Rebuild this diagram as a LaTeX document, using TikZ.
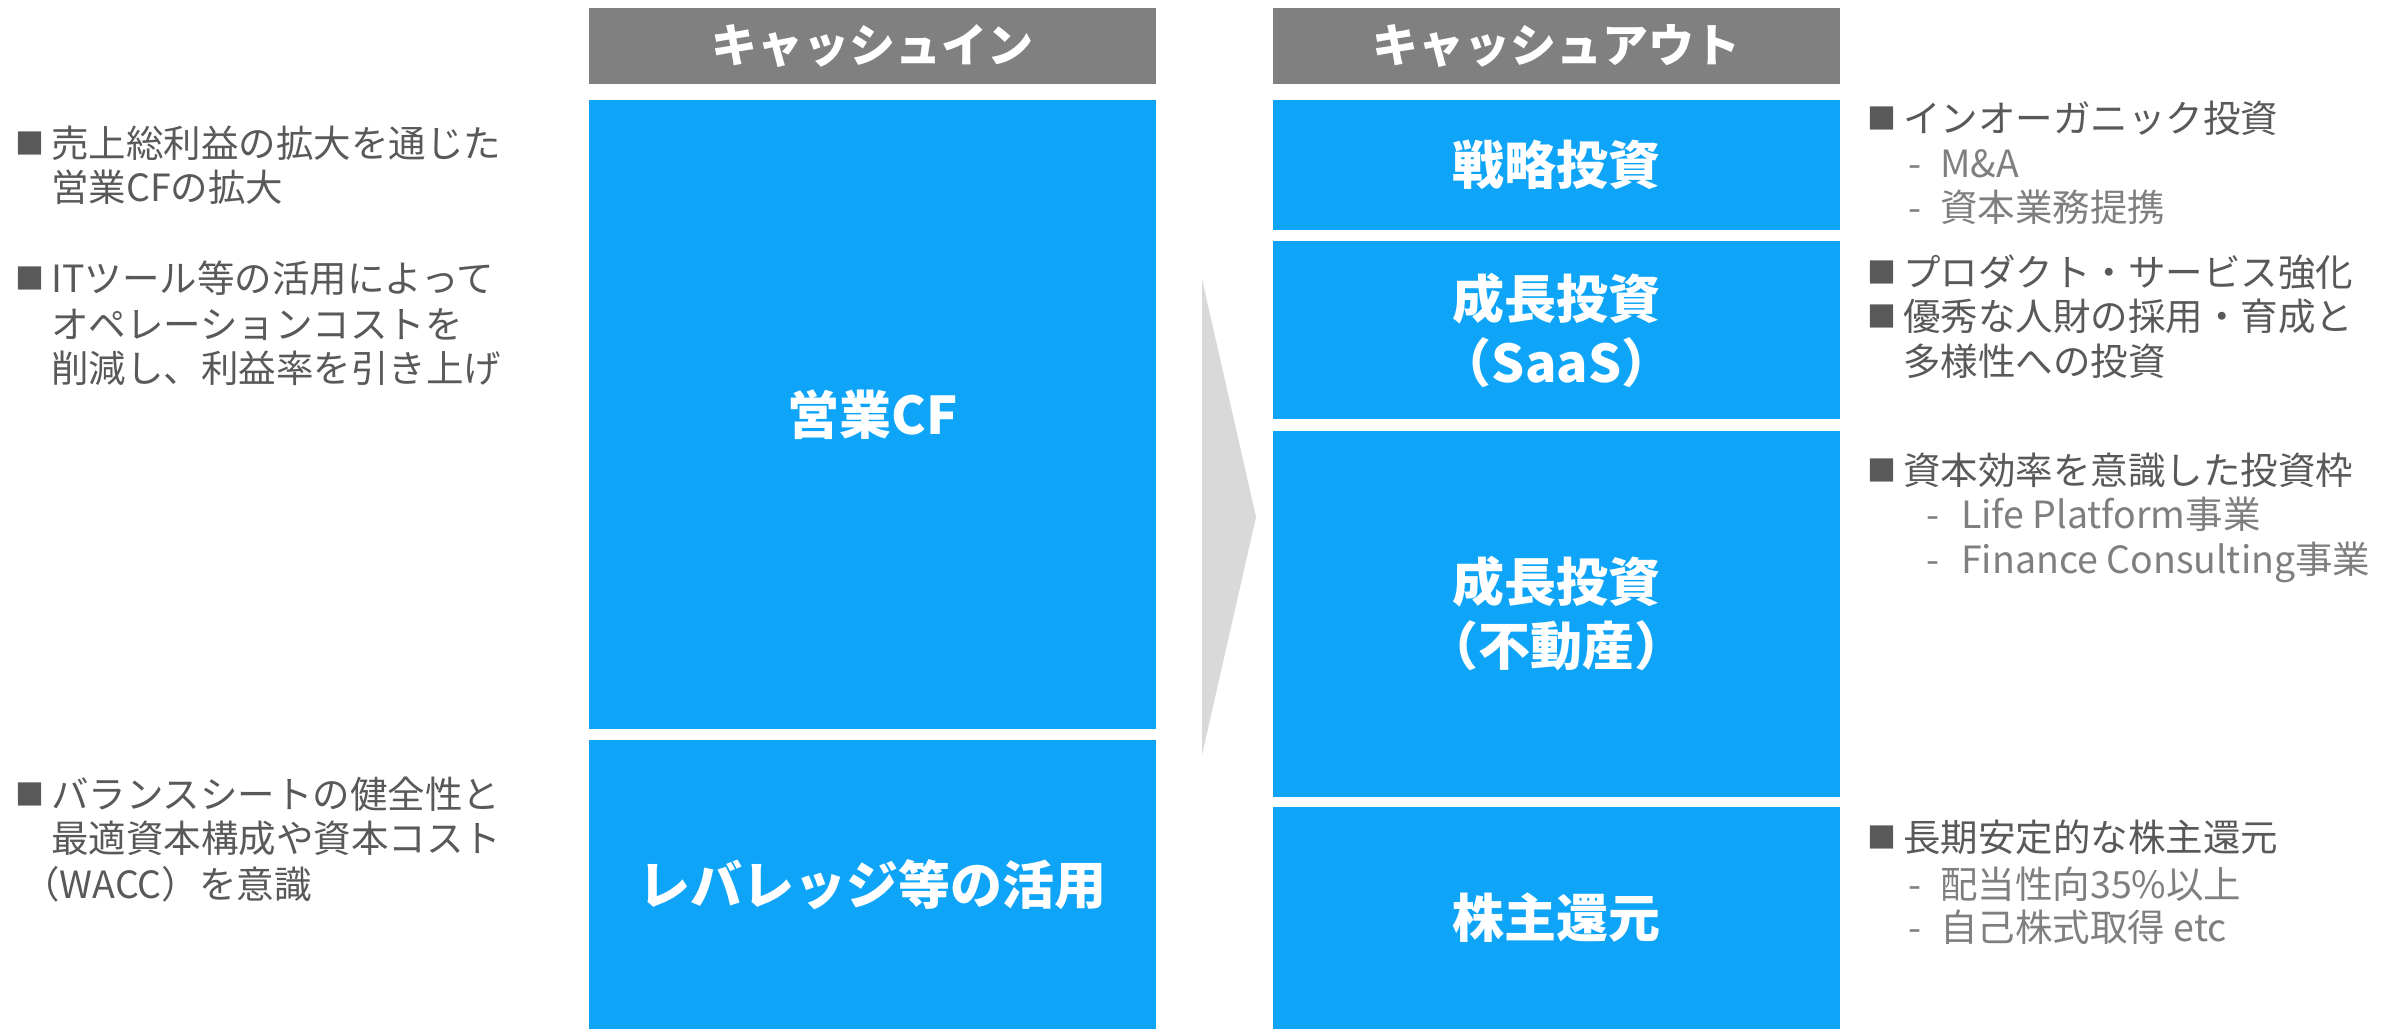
\documentclass[tikz,border=0pt]{standalone}
\usepackage{fontspec}
\setmainfont{Noto Sans CJK JP}
\definecolor{hdr}{RGB}{128,128,128}
\definecolor{cfblue}{RGB}{14,164,248}
\definecolor{txt}{RGB}{89,89,89}
\definecolor{subtxt}{RGB}{127,127,127}
\definecolor{arr}{RGB}{217,217,217}
\begin{document}
\begin{tikzpicture}[x=1pt,y=-1pt,
  hdrbox/.style={fill=hdr, text=white, inner sep=0, minimum width=567pt, minimum height=76pt,
    font=\fontsize{46}{50}\selectfont\bfseries},
  bluebox/.style={fill=cfblue, text=white, inner sep=0, minimum width=567pt, align=center,
    font=\fontsize{52}{64}\selectfont\bfseries},
  line/.style={text=txt, anchor=base west, inner sep=0, font=\fontsize{37.5}{45}\selectfont},
  subline/.style={line, text=subtxt},
  bul/.style={text=txt, anchor=base west, inner sep=0, font=\fontsize{29}{32}\selectfont}]
\useasboundingbox (0,0) rectangle (2407,1029);

% headers
\node[hdrbox] (hin) at (872.5,46) {キャッシュイン};
\node[hdrbox] (hout) at (1556.5,46) {キャッシュアウト};

% cash in
\node[bluebox, minimum height=629pt] (cf) at (872.5,414.5) {営業CF};
\node[bluebox, minimum height=289pt] (lev) at (872.5,884.5) {レバレッジ等の活用};

% arrow
\fill[arr] (1202,279) -- (1256,517) -- (1202,755) -- cycle;

% cash out
\node[bluebox, minimum height=130pt] (st) at (1556.5,165) {戦略投資};
\node[bluebox, minimum height=178pt] (saas) at (1556.5,330) {成長投資\\（SaaS）};
\node[bluebox, minimum height=366pt] (re) at (1556.5,614) {成長投資\\（不動産）};
\node[bluebox, minimum height=222pt] (sh) at (1556.5,918) {株主還元};

% left texts
\node[bul] (lb1) at (15,154) {■};
\node[line] (l1a) at (51,157) {売上総利益の拡大を通じた};
\node[line] (l1b) at (51,201) {営業CFの拡大};
\node[bul] (lb2) at (15,289) {■};
\node[line] (l2a) at (51,292) {ITツール等の活用によって};
\node[line] (l2b) at (51,338) {オペレーションコストを};
\node[line] (l2c) at (51,382) {削減し、利益率を引き上げ};
\node[bul] (lb3) at (15,805) {■};
\node[line] (l3a) at (51,808) {バランスシートの健全性と};
\node[line] (l3b) at (51,852) {最適資本構成や資本コスト};
\node[line] (l3c) at (22,898) {（WACC）を意識};

% right texts
\node[bul] (rb1) at (1867,129) {■};
\node[line] (r1a) at (1903,132) {インオーガニック投資};
\node[subline] (r1b) at (1908,177) {-\hspace{19pt}M\&A};
\node[subline] (r1c) at (1908,221) {-\hspace{19pt}資本業務提携};
\node[bul] (rb2) at (1867,283) {■};
\node[line] (r2a) at (1903,286) {プロダクト・サービス強化};
\node[bul] (rb3) at (1867,327) {■};
\node[line] (r3a) at (1903,330) {優秀な人財の採用・育成と};
\node[line] (r3b) at (1903,375) {多様性への投資};
\node[bul] (rb4) at (1867,481) {■};
\node[line] (r4a) at (1903,484) {資本効率を意識した投資枠};
\node[subline] (r4b) at (1926,528) {-\hspace{22pt}Life Platform事業};
\node[subline] (r4c) at (1926,573) {-\hspace{22pt}Finance Consulting事業};
\node[bul] (rb5) at (1867,848) {■};
\node[line] (r5a) at (1903,851) {長期安定的な株主還元};
\node[subline] (r5b) at (1908,898) {-\hspace{19pt}配当性向35\%以上};
\node[subline] (r5c) at (1908,941) {-\hspace{19pt}自己株式取得 etc};
\end{tikzpicture}
\end{document}
